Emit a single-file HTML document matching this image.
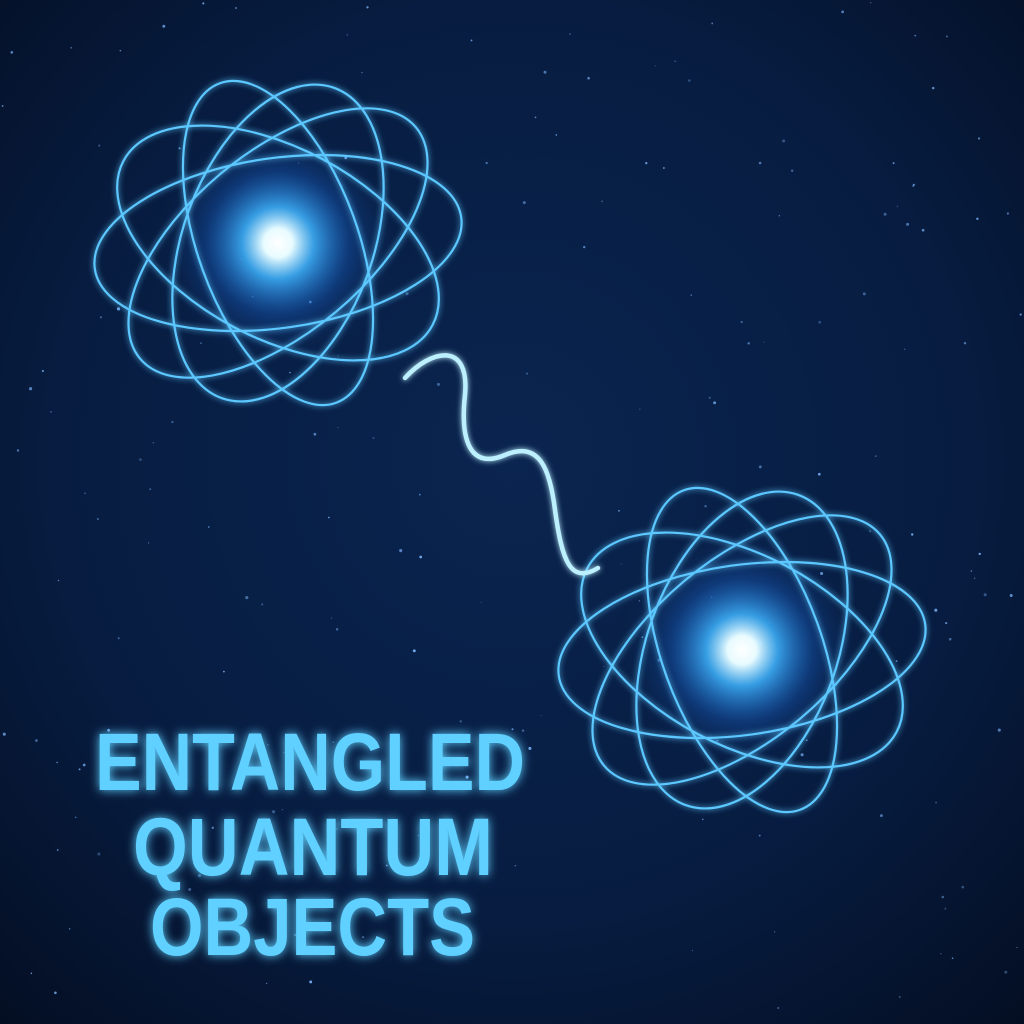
<!DOCTYPE html>
<html><head><meta charset="utf-8"><style>
html,body{margin:0;padding:0;background:#061531;}
svg{display:block}
</style></head><body>
<svg id="scene" width="1024" height="1024" viewBox="0 0 1024 1024" xmlns="http://www.w3.org/2000/svg">
<defs>
<radialGradient id="bg" cx="50%" cy="45%" r="75%">
<stop offset="0" stop-color="#0a2550"/><stop offset="0.6" stop-color="#071c40"/><stop offset="1" stop-color="#040e22"/>
</radialGradient>
<radialGradient id="core" cx="50%" cy="50%" r="50%">
<stop offset="0" stop-color="#ffffff"/><stop offset="0.12" stop-color="#e8fbff"/><stop offset="0.3" stop-color="#3fb4ff" stop-opacity="0.85"/><stop offset="0.6" stop-color="#1a66d0" stop-opacity="0.35"/><stop offset="1" stop-color="#0c2a5c" stop-opacity="0"/>
</radialGradient>
<filter id="glow" x="-20%" y="-20%" width="140%" height="140%">
<feGaussianBlur stdDeviation="3" result="b"/><feMerge><feMergeNode in="b"/><feMergeNode in="SourceGraphic"/></feMerge>
</filter>
<filter id="tglow" x="-10%" y="-30%" width="120%" height="160%">
<feGaussianBlur stdDeviation="5" result="b"/><feMerge><feMergeNode in="b"/><feMergeNode in="SourceGraphic"/></feMerge>
</filter>
</defs>
<rect width="1024" height="1024" fill="url(#bg)"/>
<g id="stars"></g>

<g transform="translate(278,243)">
<circle r="120" fill="url(#core)"/>
<g fill="none" stroke="#5cc8ff" stroke-width="2.2" filter="url(#glow)">
<ellipse rx="185" ry="85" transform="rotate(-8)"/>
<ellipse rx="175" ry="95" transform="rotate(28)"/>
<ellipse rx="180" ry="90" transform="rotate(-40)"/>
<ellipse rx="170" ry="80" transform="rotate(70)"/>
<ellipse rx="165" ry="95" transform="rotate(-70)"/>
</g>
</g>

<g transform="translate(742,650)">
<circle r="120" fill="url(#core)"/>
<g fill="none" stroke="#5cc8ff" stroke-width="2.2" filter="url(#glow)">
<ellipse rx="185" ry="85" transform="rotate(-8)"/>
<ellipse rx="175" ry="95" transform="rotate(28)"/>
<ellipse rx="180" ry="90" transform="rotate(-40)"/>
<ellipse rx="170" ry="80" transform="rotate(70)"/>
<ellipse rx="165" ry="95" transform="rotate(-70)"/>
</g>
</g>

<path d="M405,378 C430,350 470,340 465,395 C460,440 470,470 505,455 C540,440 550,470 555,510 C562,560 570,585 598,568" fill="none" stroke="#bdf0ff" stroke-width="4.5" stroke-linecap="round" filter="url(#glow)"/>

<g fill="#5fd0ff" font-family="'Liberation Sans', sans-serif" font-weight="bold" font-size="82" filter="url(#tglow)">
<text x="95" y="790" textLength="430" lengthAdjust="spacingAndGlyphs">ENTANGLED</text>
<text x="133" y="875" textLength="360" lengthAdjust="spacingAndGlyphs">QUANTUM</text>
<text x="150" y="955" textLength="325" lengthAdjust="spacingAndGlyphs">OBJECTS</text>
</g>
</svg>
<script>
var g=document.getElementById('stars');
var s=12345;function rnd(){s=(s*16807)%2147483647;return s/2147483647;}
for(var i=0;i<180;i++){
var c=document.createElementNS('http://www.w3.org/2000/svg','circle');


c.setAttribute('cx',(rnd()*1024).toFixed(1));
c.setAttribute('cy',(rnd()*1024).toFixed(1));
c.setAttribute('r',(0.5+rnd()*1.1).toFixed(2));
c.setAttribute('fill','#7fb8ff');
c.setAttribute('opacity',(0.3+rnd()*0.6).toFixed(2));
g.appendChild(c);
}
</script>
</body></html>
